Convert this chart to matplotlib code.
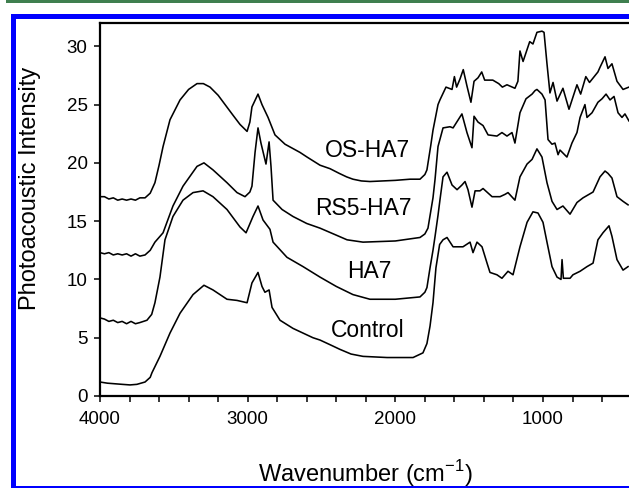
import matplotlib
matplotlib.use("Agg")
import matplotlib.pyplot as plt
from matplotlib.patches import Rectangle
from matplotlib.ticker import MultipleLocator

plt.rcParams['font.family'] = ['Liberation Sans', 'DejaVu Sans']
plt.rcParams['mathtext.fontset'] = 'custom'
plt.rcParams['mathtext.rm'] = 'Liberation Sans'

# spectra (wavenumber cm-1, intensity)
os_wn = [4000, 3970, 3940, 3910, 3880, 3850, 3820, 3790, 3760, 3730, 3695, 3660,
         3628, 3600, 3573, 3526, 3458, 3400, 3343, 3300, 3255, 3200, 3153, 3100,
         3052, 3004, 2985, 2971, 2930, 2903, 2862, 2815, 2747, 2646, 2598, 2510,
         2442, 2380, 2330, 2287, 2230, 2172, 2000, 1900, 1833, 1800, 1786, 1760,
         1745, 1711, 1698, 1657, 1616, 1600, 1585, 1562, 1540, 1515, 1488, 1467,
         1440, 1415, 1395, 1340, 1300, 1275, 1244, 1190, 1170, 1156, 1135, 1090,
         1068, 1041, 1007, 993, 973, 953, 932, 905, 865, 824, 770, 745,
         710, 685, 628, 614, 580, 560, 533, 499, 458, 418]
os_y = [17.1, 17.1, 16.9, 17.0, 16.8, 16.9, 16.8, 16.9, 16.8, 17.0, 17.0, 17.4,
        18.3, 19.8, 21.4, 23.7, 25.4, 26.3, 26.8, 26.8, 26.5, 25.8, 25.0, 24.1,
        23.3, 22.7, 23.5, 24.8, 25.9, 25.0, 23.9, 22.4, 21.6, 20.9, 20.5, 19.8,
        19.5, 19.1, 18.8, 18.6, 18.45, 18.4, 18.5, 18.6, 18.6, 19.0, 19.4, 21.5,
        22.8, 25.0, 25.4, 26.5, 26.3, 27.4, 26.5, 27.2, 28.0, 26.6, 25.2, 27.0,
        27.3, 27.8, 27.1, 27.1, 26.8, 26.5, 26.7, 26.4, 27.0, 29.6, 28.7, 30.4,
        30.2, 31.2, 31.3, 31.2, 28.5, 26.0, 26.9, 25.3, 26.4, 24.6, 26.7, 25.9,
        27.4, 26.9, 27.8, 28.2, 29.1, 28.1, 28.5, 27.0, 26.3, 26.5]

rs5_wn = [4000, 3970, 3940, 3910, 3880, 3850, 3820, 3790, 3760, 3730, 3695, 3660,
          3628, 3573, 3506, 3438, 3343, 3296, 3235, 3140, 3072, 3018, 2985, 2971,
          2950, 2930, 2910, 2876, 2855, 2842, 2828, 2767, 2693, 2600, 2510, 2400,
          2327, 2219, 2000, 1833, 1800, 1779, 1745, 1731, 1711, 1677, 1630, 1609,
          1549, 1515, 1481, 1467, 1440, 1406, 1372, 1312, 1278, 1244, 1210, 1190,
          1156, 1115, 1074, 1054, 1041, 1007, 986, 966, 939, 919, 898, 885,
          838, 804, 770, 749, 716, 702, 668, 628, 600, 573, 546, 519,
          492, 465, 445, 418]
rs5_y = [12.3, 12.2, 12.3, 12.1, 12.2, 12.1, 12.2, 12.0, 12.2, 12.0, 12.1, 12.5,
         13.2, 14.0, 16.3, 18.0, 19.7, 20.0, 19.4, 18.3, 17.45, 17.1, 17.5, 18.0,
         20.9, 23.0, 21.7, 19.9, 21.8, 19.7, 16.8, 16.0, 15.4, 14.8, 14.4, 13.8,
         13.4, 13.2, 13.3, 13.6, 13.9, 14.4, 17.0, 18.6, 21.4, 23.0, 23.1, 23.0,
         24.2, 22.6, 21.3, 24.0, 23.5, 23.2, 22.4, 22.3, 22.6, 22.3, 22.6, 21.7,
         24.3, 25.5, 25.9, 26.2, 26.3, 25.9, 25.4, 22.0, 21.6, 21.7, 20.7, 21.1,
         20.5, 21.7, 22.6, 23.9, 25.0, 23.9, 24.3, 25.2, 25.5, 25.9, 25.4, 25.7,
         24.3, 23.9, 24.2, 23.6]

ha7_wn = [4000, 3970, 3940, 3910, 3880, 3850, 3820, 3790, 3760, 3730, 3682, 3650,
          3628, 3594, 3560, 3506, 3438, 3370, 3302, 3235, 3140, 3052, 3011, 2964,
          2930, 2896, 2849, 2828, 2734, 2625, 2510, 2400, 2287, 2172, 2000, 1833,
          1800, 1786, 1765, 1745, 1731, 1711, 1698, 1677, 1650, 1616, 1582, 1549,
          1528, 1508, 1481, 1460, 1427, 1406, 1345, 1291, 1257, 1237, 1190, 1156,
          1108, 1074, 1041, 1007, 973, 939, 905, 865, 817, 770, 729, 661,
          614, 580, 560, 533, 499, 458, 424]
ha7_y = [6.7, 6.6, 6.4, 6.5, 6.3, 6.4, 6.2, 6.4, 6.2, 6.3, 6.5, 7.0,
         8.0, 10.2, 13.4, 15.4, 16.8, 17.45, 17.6, 17.1, 16.0, 14.5, 14.0, 15.4,
         16.3, 15.1, 14.3, 13.2, 11.9, 11.1, 10.2, 9.4, 8.7, 8.3, 8.3, 8.5,
         8.9, 9.3, 11.0, 12.5, 13.7, 15.5, 16.8, 18.8, 19.2, 18.1, 17.7, 18.1,
         18.4, 17.7, 16.2, 17.6, 17.6, 17.8, 17.1, 17.1, 17.3, 17.45, 16.8, 18.8,
         19.9, 20.3, 21.2, 20.5, 18.3, 16.7, 16.0, 16.3, 15.6, 16.6, 17.0, 17.5,
         18.8, 19.3, 19.1, 18.7, 17.1, 16.7, 16.4]

ctrl_wn = [4000, 3950, 3900, 3850, 3797, 3750, 3695, 3660, 3648, 3594, 3526, 3458,
           3370, 3296, 3235, 3140, 3072, 3004, 2971, 2930, 2903, 2883, 2855, 2835,
           2781, 2693, 2558, 2510, 2442, 2375, 2300, 2219, 2056, 1880, 1813, 1786,
           1765, 1745, 1725, 1700, 1677, 1650, 1609, 1542, 1494, 1474, 1447, 1413,
           1379, 1359, 1312, 1278, 1237, 1203, 1156, 1108, 1068, 1034, 1000, 973,
           939, 905, 878, 871, 862, 817, 797, 749, 702, 661, 628, 594,
           553, 533, 499, 458, 424]
ctrl_y = [1.2, 1.1, 1.05, 1.0, 0.95, 1.0, 1.2, 1.6, 2.0, 3.4, 5.4, 7.1,
          8.7, 9.5, 9.1, 8.3, 8.2, 8.0, 9.7, 10.6, 9.4, 8.9, 9.1, 7.6,
          6.5, 5.8, 5.0, 4.8, 4.4, 4.0, 3.6, 3.4, 3.3, 3.3, 3.7, 4.5,
          6.0, 8.0, 11.0, 13.0, 13.4, 13.6, 12.8, 12.8, 13.2, 12.3, 13.2, 12.8,
          11.4, 10.6, 10.4, 10.1, 10.7, 10.4, 12.8, 14.9, 15.8, 15.7, 14.9, 13.2,
          11.1, 10.2, 10.0, 11.7, 10.1, 10.1, 10.4, 10.7, 11.1, 11.4, 13.4, 14.0,
          14.6, 13.7, 11.7, 10.8, 11.1]

labels = ['OS-HA7', 'RS5-HA7', 'HA7', 'Control']
label_wn = [2192, 2219, 2179, 2185]
label_y = [21.1, 16.1, 10.7, 5.6]

fig = plt.figure(figsize=(6.29, 4.88), dpi=100)
ax = fig.add_axes([100 / 629, 92 / 488, 531.6 / 629, 373 / 488])

for wn, yy in [(os_wn, os_y), (rs5_wn, rs5_y), (ha7_wn, ha7_y), (ctrl_wn, ctrl_y)]:
    ax.plot(wn, yy, color='black', lw=1.15)

for t, xw, yv in zip(labels, label_wn, label_y):
    ax.text(xw, yv, t, fontsize=16.5, ha='center', va='center')

ax.set_xlim(4000, 400)
ax.set_ylim(0, 32)
ax.set_xticks([4000, 3000, 2000, 1000])
ax.xaxis.set_minor_locator(MultipleLocator(200))
ax.set_yticks([0, 5, 10, 15, 20, 25, 30])
ax.tick_params(axis='both', which='both', direction='out', width=1.1, labelsize=13.5)
ax.tick_params(axis='x', which='both', length=4.5, pad=6)
ax.tick_params(axis='y', which='major', length=4, pad=5)
for s in ax.spines.values():
    s.set_linewidth(1.6)
ax.spines['right'].set_visible(False)

fig.text(30 / 629, 1 - 188 / 488, 'Photoacoustic Intensity', rotation=90,
         fontsize=17, ha='center', va='center')
fig.text(365 / 629, 1 - 474 / 488, 'Wavenumber (cm$^{\\mathregular{-1}}$)',
         fontsize=17, ha='center', va='center')

# page frame around the figure
fig.patches.append(Rectangle((6 / 629, 1 - 3 / 488), 1, 2.5 / 488,
                             transform=fig.transFigure, color='#3f7f4f', lw=0))
fig.patches.append(Rectangle((11 / 629, 0), 5 / 629, 1 - 14 / 488,
                             transform=fig.transFigure, color='#0000ff', lw=0))
fig.patches.append(Rectangle((11 / 629, 1 - 19 / 488), 1, 5 / 488,
                             transform=fig.transFigure, color='#0000ff', lw=0))
fig.patches.append(Rectangle((11 / 629, 0), 1, 2 / 488,
                             transform=fig.transFigure, color='#0000ff', lw=0))

fig.savefig('out.png', dpi=100)
